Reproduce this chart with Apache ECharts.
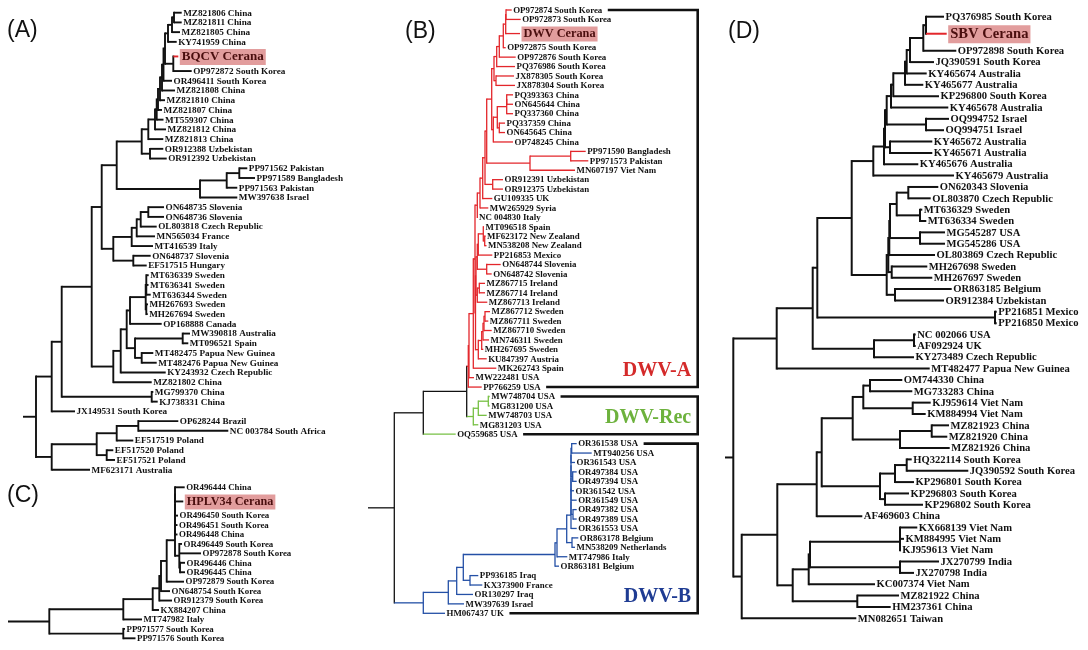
<!DOCTYPE html>
<html>
<head>
<meta charset="utf-8">
<script src="https://cdn.jsdelivr.net/npm/echarts@6.0.0/dist/echarts.min.js"></script>
<style>
html,body{margin:0;padding:0;background:#fff;}
#chart{width:1088px;height:650px;}
</style>
</head>
<body>
<div id="chart"></div>
<script>
// ===== DATA =====
// Trees in Newick-like form; number after ':' = node distance from the root stub start (tree units)
const treeA = `(
(
(
(
(
(
(
(
((((((((((MZ821806 China:158.7,MZ821811 China:158.7):151,MZ821805 China:157):149,KY741959 China:153.7):145,(BQCV Cerana:155.3,OP972872 South Korea:168.7):150.3):142,OR496411 South Korea:149):140.5,MZ821808 China:152):139,MZ821810 China:142):137,MZ821807 China:139):135,MT559307 China:140.5):133.7,MZ821812 China:143):132,
MZ821813 China:140.3):125.3,
(OR912388 Uzbekistan:140.3,OR912392 Uzbekistan:143.7):127):118.7,
(((PP971562 Pakistan:224.3,PP971589 Bangladesh:232):216.3,PP971563 Pakistan:214.3):203.7,MW397638 Israel:214.3):177):93.7,
(((((ON648735 Slovenia:141,ON648736 Slovenia:141):125.3,OL803818 Czech Republic:133.7):117.7,MN565034 France:132):113.7,MT416539 Italy:130):108.7,(ON648737 Slovenia:127.7,EF517515 Hungary:123.7):110.3):90.3):78.7,
((((((MT636339 Sweden:125.7,MT636341 Sweden:125.5,MT636344 Sweden:127.7):123.3,(MH267693 Sweden:125,MH267694 Sweden:124.7):123.3):122.7,OP168888 Canada:138.7):107,((MW390818 Australia:167,MT096521 Spain:165.3):159.7,(MT482475 Papua New Guinea:130.3,MT482476 Papua New Guinea:133.7):118.7):112):103.7,KY243932 Czech Republic:142.7):97.7,MZ821802 China:128.7):90.3):68.7,
(MG799370 China:130.3,KJ738331 China:134.7):128.7):38.7,
JX149531 South Korea:52):28.7,
((((OP628244 Brazil:155.3,NC 003784 South Africa:205.3):115.3,EF517519 Poland:110.3):93.7,(EF517520 Poland:90.3,EF517521 Poland:92):83.7):73.7,MF623171 Australia:67):28.7):13`;

const treeB = `(
(
(
(
(
(
(
(
(
(
(
(
(
(
(
(
(
(
(OP972874 South Korea:143.7,OP972873 South Korea:152.7):138,DWV Cerana:152):137.7,
OP972875 South Korea:137.7):135.3,
OP972876 South Korea:147.7):131.3,
PQ376986 South Korea:147):128.7,
(JX878305 South Korea:146,JX878304 South Korea:147):128):126,
((((PQ393363 China:145,ON645644 China:145):138.7,PQ337360 China:145):138.7,(PQ337359 China:137,ON645645 China:137):131.3):129.3,OP748245 China:145):125.3):123.7,
((PP971590 Bangladesh:217.7,PP971573 Pakistan:220.3):202.7,MN607197 Viet Nam:207):162):118.7,
(OR912391 Uzbekistan:135,OR912375 Uzbekistan:135):124.7):117,
GU109335 UK:124.3):114.7,
MW265929 Syria:120.3):112,
NC 004830 Italy:109.5):109.3,
(((((MT096518 Spain:116,(MF623172 New Zealand:117.5,MN538208 New Zealand:118.5):116.7):115.3,PP216853 Mexico:124.3):110.3,(ON648744 Slovenia:132.7,ON648742 Slovenia:123.7):118.7):109.3,((MZ867715 Ireland:117,MZ867714 Ireland:117):111.3,MZ867713 Ireland:119.3):109.3):108,
(((((MZ867712 Sweden:122,MZ867711 Sweden:120.3):117,MZ867710 Sweden:123.7):116,MN746311 Sweden:121):115,MH267695 Sweden:115.3):113.7,KU847397 Austria:118.7):110.3):107.5):107,
MK262743 Spain:128.3):105.3,
MW222481 USA:106):101,
PP766259 USA:113.7):100.3,
(((MW748704 USA:121.7,MG831200 USA:121.7):120.3,MW748703 USA:118.7):110.3,MG831203 USA:110.3):105.3):98.7,
OQ559685 USA:87.7):55.3,
((((((((((((((OR361538 USA:208.7,MT940256 USA:223.7):203.7,OR361543 USA:207):203,(OR497384 USA:208.7,OR497394 USA:208.7):204.7):203,OR361542 USA:206):203,OR361549 USA:208.7):203,(OR497382 USA:208.7,OR497389 USA:208.7):205):203,OR361553 USA:208.7):203,
(OR863178 Belgium:210.3,MN538209 Netherlands:207):204):198.7,MT747986 Italy:199.3):189,OR863181 Belgium:191):187,
(PP936185 Iraq:110.3,KX373900 France:114.3):102):95.3,OR130297 Iraq:105):88.7,MW397639 Israel:96):80.3,HM067437 UK:77):55.3):26.3`;

const treeC = `(((((((((((OR496444 China:176.7,HPLV34 Cerana:175.3):167,OR496450 South Korea:170):167,OR496451 South Korea:169.5):167,OR496448 China:169.5):167,
(OR496449 South Korea:174,OP972878 South Korea:193,(OR496446 China:177,OR496445 China:177):172):171.3):167,
OP972879 South Korea:176):158.7,ON648754 South Korea:162):153,OR912379 South Korea:164):151.3,KX884207 China:151):144.7,MT747982 Italy:134):115.3,
(PP971577 South Korea:117,PP971576 South Korea:127.5):115.3):41.3`;

const treeD = `(
(
(
(
(
(
(
(
(
(
(
(
(
(
(
(PQ376985 South Korea:219,SBV Cerana:221.7):201,OP972898 South Korea:231.3):198.3,
JQ390591 South Korea:209):185,
KY465674 Australia:201.7):181.7,
KY465677 Australia:198.3):180,
KP296800 South Korea:214):168.3,
KY465678 Australia:223.3):166,
(OQ994752 Israel:224,OQ994751 Israel:219):201):161.7,
(KY465672 Australia:207.3,KY465671 Australia:207.3):165):160,
KY465676 Australia:193.3):159,
KY465679 Australia:229):148.3,
((((((ON620343 Slovenia:213.3,OL803870 Czech Republic:205.7):183.3,(MT636329 Sweden:197.3,MT636334 Sweden:201.3):195):171.7,(MG545287 USA:220,MG545286 USA:220):195):165,OL803869 Czech Republic:210):164.3,(MH267698 Sweden:202.3,MH267697 Sweden:207.3):166.7):163.3,(OR863185 Belgium:226.7,OR912384 Uzbekistan:219):170):161.7):126.7,
(PP216851 Mexico:271.7,PP216850 Mexico:271.7):270):92.3,
((NC 002066 USA:190.7,AF092924 UK:190.7):189,KY273489 Czech Republic:189):149):87.7,
MT482477 Papua New Guinea:204.7):51.7,
(((((((OM744330 China:177.3,MG733283 China:187.3):145,(KJ959614 Viet Nam:205.7,KM884994 Viet Nam:200.7):187.7):138.3,((MZ821923 China:224,MZ821920 China:222.3):206.7,MZ821926 China:224.7):175):127.7,
(((HQ322114 South Korea:186.7,JQ390592 South Korea:243.3):181.7,KP296801 South Korea:189):170,(KP296803 South Korea:184,KP296802 South Korea:198):160):155):96.7,AF469603 China:137.3):91.7,
(((((KX668139 Viet Nam:192.3,KM884995 Viet Nam:179):175,KJ959613 Viet Nam:175.7):175,(JX270799 India:214,JX270798 India:189):175):85,KC007374 Viet Nam:150):83.7,(MZ821922 China:174,HM237361 China:165.7):132.3):67.7):52.3,
MN082651 Taiwan:131.3):16.7):8.3`;

const highlightLeaves = ['BQCV Cerana', 'DWV Cerana', 'HPLV34 Cerana', 'SBV Cerana'];
const redBranchLeaves = ['BQCV Cerana', 'SBV Cerana'];
const dwvGroupNames = ['DWV-A', 'DWV-Rec', 'DWV-B'];
const dwvGroupFirst = ['OP972874 South Korea', 'MW748704 USA', 'OR361538 USA'];
const dwvGroupLast = ['PP766259 USA', 'OQ559685 USA', 'HM067437 UK'];
const panelLetters = ['(A)', '(B)', '(C)', '(D)'];

// ===== STYLE / LAYOUT =====
const SERIF = '"Liberation Serif", "Times New Roman", serif';
const SANS = '"Liberation Sans", Arial, sans-serif';
const HL_BG = '#e29d9d';
const HL_TEXT = '#4a0e0e';
const groupBranchColor = {'DWV-A': '#e3262b', 'DWV-Rec': '#77c044', 'DWV-B': '#2450a6'};
const groupTextColor = {'DWV-A': '#d42a2a', 'DWV-Rec': '#6db23d', 'DWV-B': '#1f3c93'};
const panels = [
  {tree: treeA, left: 23, top: 12.7, width: 300, height: 457, fontSize: 9.2, hlSize: 13, lw: 1.9, gap: 1.5, grouped: false},
  {tree: treeB, left: 368, top: 10, width: 332, height: 603.3, fontSize: 8.9, hlSize: 12.3, lw: 1.3, gap: 1.5, grouped: true},
  {tree: treeC, left: 8, top: 487.3, width: 300, height: 151, fontSize: 8.85, hlSize: 12.2, lw: 1.9, gap: 1.5, grouped: false},
  {tree: treeD, left: 725, top: 16.7, width: 360, height: 601.6, fontSize: 10.6, hlSize: 14.6, lw: 2, gap: 1.5, grouped: false}
];
const letterPos = [[7, 19], [405, 20], [7, 484], [728, 20]];
const boxRightDepth = 329.7;

// ===== PARSE & LAYOUT =====
function parseNewick(str) {
  const s = str.replace(/\s*\n\s*/g, '');
  let i = 0;
  function node() {
    const n = {children: [], name: '', depth: 0};
    if (s[i] === '(') {
      i++;
      n.children.push(node());
      while (s[i] === ',') { i++; n.children.push(node()); }
      if (s[i] === ')') i++;
    }
    let name = '';
    while (i < s.length && ':,()'.indexOf(s[i]) < 0) name += s[i++];
    n.name = name.trim();
    if (s[i] === ':') {
      i++; let num = '';
      while (i < s.length && /[-0-9.]/.test(s[i])) num += s[i++];
      n.depth = parseFloat(num);
    }
    return n;
  }
  return node();
}

function layoutTree(root) {
  const nodes = [], leaves = [];
  let y = 0, last = null;
  function walk(n, parent) {
    n.parentDepth = parent ? parent.depth : 0;
    nodes.push(n);
    if (!n.children.length) {
      if (last) {
        const hl = highlightLeaves.includes(n.name) || highlightLeaves.includes(last.name);
        y += hl ? 1.5 : 1;
      }
      n.y = y; last = n; n.leafList = [n]; leaves.push(n);
    } else {
      n.children.forEach(c => walk(c, n));
      n.y = (n.children[0].y + n.children[n.children.length - 1].y) / 2;
      n.leafList = [].concat(...n.children.map(c => c.leafList));
    }
  }
  walk(root, null);
  return {nodes, leaves, total: y};
}

const ctx = document.createElement('canvas').getContext('2d');
function textWidth(t, size) { ctx.font = 'bold ' + size + 'px ' + SERIF; return ctx.measureText(t).width; }

panels.forEach(P => {
  const L = layoutTree(parseNewick(P.tree));
  P.nodes = L.nodes; P.leaves = L.leaves; P.total = L.total;
  if (P.grouped) {
    dwvGroupNames.forEach((g, k) => {
      const a = P.leaves.findIndex(l => l.name === dwvGroupFirst[k]);
      const b = P.leaves.findIndex(l => l.name === dwvGroupLast[k]);
      for (let j = a; j <= b; j++) P.leaves[j].group = g;
    });
  }
  P.nodes.forEach(n => {
    let g = null;
    if (P.grouped) {
      const gs = new Set(n.leafList.map(l => l.group));
      if (gs.size === 1) g = n.leafList[0].group;
    }
    const col = g ? groupBranchColor[g] : '#111';
    n.vColor = col;
    n.edgeColor = redBranchLeaves.includes(n.name) ? '#e3262b' : col;
  });
});

function makeTreeRender(P) {
  return function (params, api) {
    const n = P.nodes[params.dataIndex];
    const lw = P.lw;
    const els = [];
    const a = api.coord([n.parentDepth, n.y]);
    const b = api.coord([n.depth, n.y]);
    if (b[0] - a[0] > 0.05) {
      els.push({type: 'line', shape: {x1: a[0], y1: a[1], x2: b[0], y2: b[1]},
        style: {stroke: n.edgeColor, lineWidth: lw}});
    }
    if (n.children.length) {
      const t = api.coord([n.depth, n.children[0].y]);
      const u = api.coord([n.depth, n.children[n.children.length - 1].y]);
      els.push({type: 'line', shape: {x1: t[0], y1: t[1] - lw / 2, x2: u[0], y2: u[1] + lw / 2},
        style: {stroke: n.vColor, lineWidth: lw}});
    } else {
      const hl = highlightLeaves.includes(n.name);
      els.push({type: 'text', x: b[0] + P.gap, y: b[1] + (hl ? 0.5 : 0.5),
        style: {text: n.name, fontFamily: SERIF, fontWeight: 'bold',
          fontSize: hl ? P.hlSize : P.fontSize, fill: hl ? HL_TEXT : '#111',
          align: 'left', verticalAlign: 'middle',
          backgroundColor: hl ? HL_BG : 'transparent', padding: hl ? [2, 2, 1, 2] : 0}});
    }
    return {type: 'group', children: els};
  };
}

const PB = panels[1];
function boxRender(params, api) {
  const k = params.dataIndex;
  const first = PB.leaves.find(l => l.name === dwvGroupFirst[k]);
  const last = PB.leaves.find(l => l.name === dwvGroupLast[k]);
  const right = api.coord([boxRightDepth, 0])[0];
  const f = api.coord([first.depth, first.y]);
  const l = api.coord([last.depth, last.y]);
  const fx = f[0] + PB.gap + textWidth(first.name, PB.fontSize) + 5.5;
  const lx = l[0] + PB.gap + textWidth(last.name, PB.fontSize) + 5.5;
  const st = {stroke: '#111', lineWidth: 2.6};
  const g = dwvGroupNames[k];
  return {type: 'group', children: [
    {type: 'polyline', shape: {points: [[fx, f[1]], [right, f[1]], [right, l[1]], [lx, l[1]]]}, style: Object.assign({fill: null}, st)},
    {type: 'text', x: right - 6.5, y: l[1] - 16, style: {text: g, fontFamily: SERIF, fontWeight: 'bold', fontSize: 20,
      fill: groupTextColor[g], align: 'right', verticalAlign: 'middle'}}
  ]};
}

const option = {
  backgroundColor: '#fff',
  animation: false,
  grid: panels.map(P => ({left: P.left, top: P.top, width: P.width, height: P.height, containLabel: false})),
  xAxis: panels.map((P, k) => ({type: 'value', gridIndex: k, min: 0, max: P.width, show: false})),
  yAxis: panels.map((P, k) => ({type: 'value', gridIndex: k, min: 0, max: P.total, inverse: true, show: false})),
  series: panels.map((P, k) => ({
    type: 'custom', coordinateSystem: 'cartesian2d', xAxisIndex: k, yAxisIndex: k,
    data: P.nodes.map(n => [n.depth, n.y]), renderItem: makeTreeRender(P), clip: false, silent: true
  })).concat([{
    type: 'custom', coordinateSystem: 'cartesian2d', xAxisIndex: 1, yAxisIndex: 1,
    data: dwvGroupNames.map(() => [0, 0]), renderItem: boxRender, clip: false, silent: true, z: 3
  }]),
  graphic: panelLetters.map((t, k) => ({type: 'text', left: letterPos[k][0], top: letterPos[k][1],
    style: {text: t, fontFamily: SANS, fontSize: 23, fill: '#111'}}))
};

const chart = echarts.init(document.getElementById('chart'), null, {renderer: 'canvas'});
chart.setOption(option);
</script>
</body>
</html>
